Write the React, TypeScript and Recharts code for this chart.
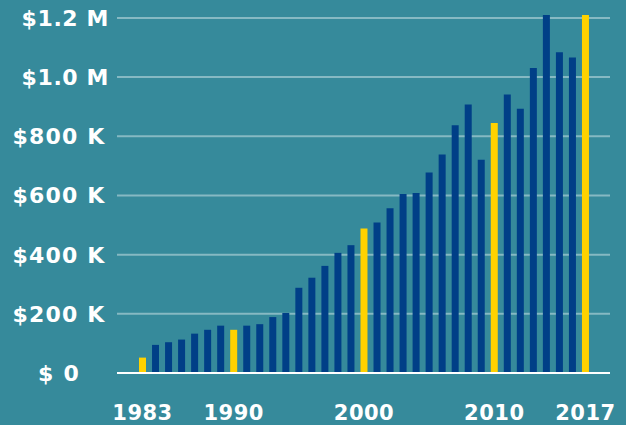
import React from "react";
import { BarChart, Bar, XAxis, YAxis, ReferenceLine, Cell } from "recharts";

const years: string[] = [
  "1983", "1984", "1985", "1986", "1987", "1988", "1989", "1990", "1991", "1992",
  "1993", "1994", "1995", "1996", "1997", "1998", "1999", "2000", "2001", "2002",
  "2003", "2004", "2005", "2006", "2007", "2008", "2009", "2010", "2011", "2012",
  "2013", "2014", "2015", "2016", "2017",
];

const values: number[] = [
  52000, 95000, 104000, 113000, 133000, 146000, 160000, 146000, 160000, 165000,
  189000, 203000, 288000, 322000, 362000, 406000, 432000, 488000, 509000, 557000,
  605000, 608000, 678000, 738000, 837000, 907000, 721000, 845000, 941000, 893000,
  1031000, 1210000, 1084000, 1066000, 1210000,
];

const highlightYears: string[] = ["1983", "1990", "2000", "2010", "2017"];
const xTickLabels: string[] = ["1983", "1990", "2000", "2010", "2017"];

const yTickValues: number[] = [0, 200000, 400000, 600000, 800000, 1000000, 1200000];
const yTickLabels: string[] = ["$ 0", "$200 K", "$400 K", "$600 K", "$800 K", "$1.0 M", "$1.2 M"];

const data = years.map((y, i) => ({ year: y, value: values[i] }));

const BG = "#368a9b";
const BLUE = "#003f87";
const YELLOW = "#ffd200";
const FONT = "'DejaVu Sans', sans-serif";

const YTick = (props: any) => {
  const { y, payload } = props;
  const idx = yTickValues.indexOf(payload.value);
  const label = idx >= 0 ? yTickLabels[idx] : "";
  const isM = label.endsWith("M");
  return (
    <text
      x={isM ? 109 : 59}
      y={y + 8}
      textAnchor={isM ? "end" : "middle"}
      fill="#ffffff"
      fontFamily={FONT}
      fontWeight="bold"
      fontSize={22}
      letterSpacing={isM ? 0.6 : 1.2}
    >
      {label}
    </text>
  );
};

const XTick = (props: any) => {
  const { x, y, payload } = props;
  if (!xTickLabels.includes(payload.value)) return null;
  return (
    <text
      x={x}
      y={y + 47}
      textAnchor="middle"
      fill="#ffffff"
      fontFamily={FONT}
      fontWeight="bold"
      fontSize={21}
      letterSpacing={0.5}
    >
      {payload.value}
    </text>
  );
};

export default function App() {
  return (
    <div
      style={{
        position: "absolute",
        left: 0,
        top: 0,
        width: 626,
        height: 425,
        background: BG,
      }}
    >
      <BarChart
        width={626}
        height={425}
        data={data}
        margin={{ top: 12, right: 16, bottom: 12, left: 0 }}
        barCategoryGap={0}
      >
        <XAxis
          dataKey="year"
          interval={0}
          tickLine={false}
          tickSize={0}
          tickMargin={0}
          height={40}
          axisLine={{ stroke: "#ffffff", strokeWidth: 2 }}
          tick={<XTick />}
          padding={{ left: 19, right: 18 }}
        />
        <YAxis
          width={117}
          domain={[0, 1220000]}
          ticks={yTickValues}
          interval={0}
          axisLine={false}
          tickLine={false}
          tick={<YTick />}
        />
        {yTickValues
          .filter((v) => v > 0)
          .map((v) => (
            <ReferenceLine
              key={v}
              y={v}
              stroke="#ffffff"
              strokeOpacity={0.4}
              strokeWidth={2}
              {...({ zIndex: -50 } as any)}
            />
          ))}
        <Bar dataKey="value" barSize={7} isAnimationActive={false}>
          {data.map((d) => (
            <Cell
              key={d.year}
              fill={highlightYears.includes(d.year) ? YELLOW : BLUE}
            />
          ))}
        </Bar>
      </BarChart>
    </div>
  );
}
